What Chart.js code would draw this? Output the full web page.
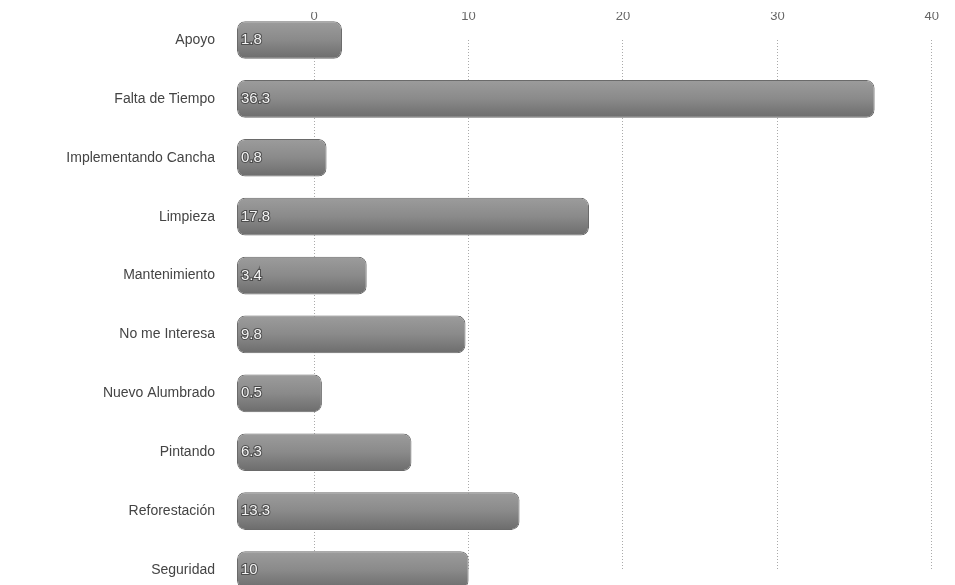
<!DOCTYPE html>
<html>
<head>
<meta charset="utf-8">
<script src="https://cdn.jsdelivr.net/npm/chart.js@4"></script>
<style>
html,body{margin:0;padding:0;background:#fff;overflow:hidden;}
#wrap{position:relative;width:955px;height:585px;}
</style>
</head>
<body>
<div id="wrap"><canvas id="c" width="955" height="585"></canvas></div>
<script>
const categories = ["Apoyo","Falta de Tiempo","Implementando Cancha","Limpieza","Mantenimiento","No me Interesa","Nuevo Alumbrado","Pintando","Reforestación","Seguridad"];
const values = [1.8, 36.3, 0.8, 17.8, 3.4, 9.8, 0.5, 6.3, 13.3, 10];
const tickValues = [0, 10, 20, 30, 40];

const labelPlugin = {
  id: 'barLabels',
  afterDatasetsDraw(chart) {
    const ctx = chart.ctx;
    const meta = chart.getDatasetMeta(0);
    ctx.save();
    ctx.font = '15px "Liberation Sans", Arial, sans-serif';
    ctx.textBaseline = 'middle';
    ctx.textAlign = 'left';
    meta.data.forEach((bar, i) => {
      const txt = String(values[i]);
      const x = bar.base + 4;
      ctx.lineWidth = 2;
      ctx.strokeStyle = 'rgba(70,70,70,0.9)';
      ctx.strokeText(txt, x, bar.y);
      ctx.fillStyle = '#f4f4f4';
      ctx.fillText(txt, x, bar.y);
    });
    ctx.restore();
  }
};

function barFill(context) {
  const chart = context.chart;
  const ys = chart.scales && chart.scales.y;
  if (!ys || context.dataIndex === undefined) return '#888';
  const cy = ys.getPixelForValue(context.dataIndex);
  if (!isFinite(cy)) return '#888';
  const h = 19;
  const g = chart.ctx.createLinearGradient(0, cy - h, 0, cy + h);
  g.addColorStop(0, '#9c9c9c');
  g.addColorStop(0.5, '#8a8a8a');
  g.addColorStop(1, '#6c6c6c');
  return g;
}

new Chart(document.getElementById('c'), {
  type: 'bar',
  data: {
    labels: categories,
    datasets: [{
      data: values,
      base: -5,
      backgroundColor: barFill,
      borderColor: '#6a6a6a',
      borderWidth: 1,
      borderRadius: 8,
      borderSkipped: false,
      barPercentage: 0.8,
      clip: false
    }]
  },
  options: {
    indexAxis: 'y',
    responsive: false,
    animation: false,
    layout: { padding: { top: 12, right: 16, left: 0, bottom: 15 } },
    plugins: { legend: { display: false }, tooltip: { enabled: false } },
    scales: {
      x: {
        position: 'top',
        min: -5,
        max: 40,
        afterBuildTicks: s => { s.ticks = tickValues.map(v => ({ value: v })); },
        afterFit: s => { s.height = 28; s.paddingTop = 0; s.paddingBottom = 0; },
        grid: { color: '#aaaaaa', drawTicks: false, lineWidth: 1 },
        border: { display: false, dash: [1, 2] },
        ticks: { color: '#666', font: { size: 13, family: '"Liberation Sans", Arial, sans-serif' }, padding: 16, maxRotation: 0 }
      },
      y: {
        offset: false,
        grid: { display: false, drawTicks: false },
        border: { display: false },
        afterFit: s => { s.width = 237; s.paddingTop = 0; s.paddingBottom = 0; },
        ticks: { color: '#444', font: { size: 14, family: '"Liberation Sans", Arial, sans-serif' }, padding: 22 }
      }
    }
  },
  plugins: [labelPlugin]
});
</script>
</body>
</html>
